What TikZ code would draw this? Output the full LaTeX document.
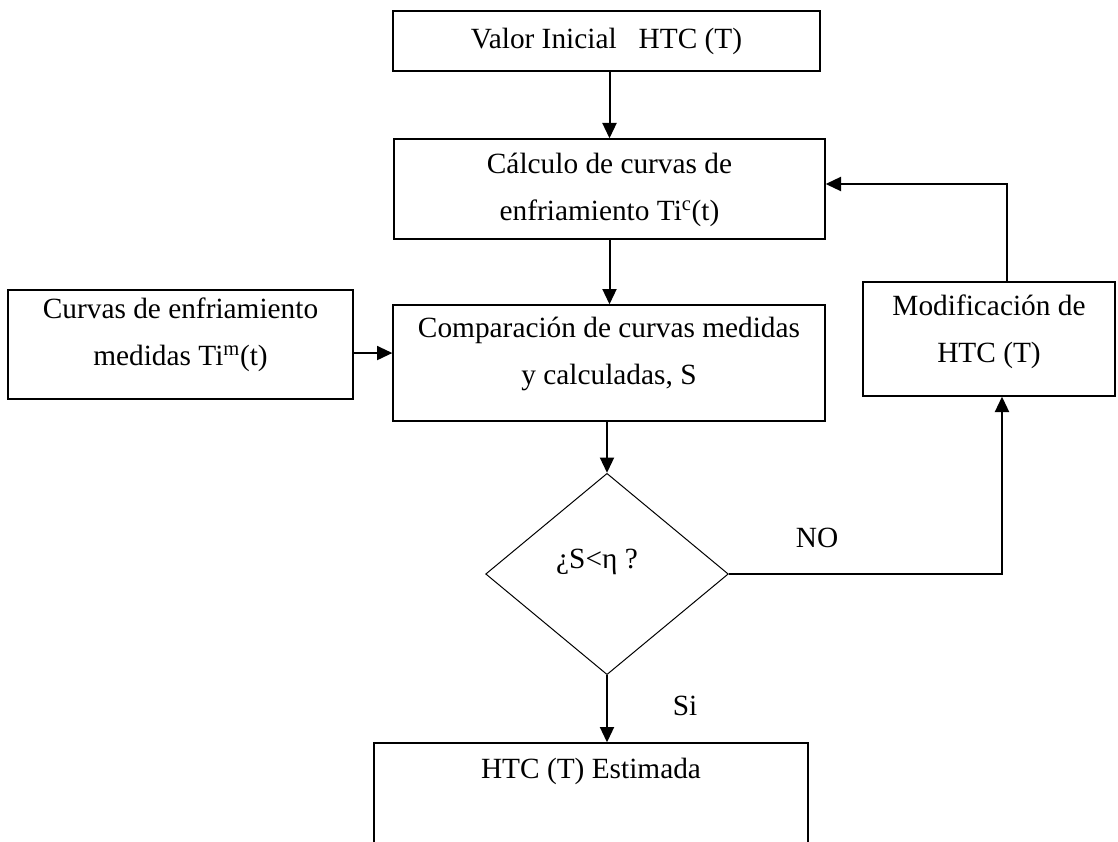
\documentclass[tikz,border=0pt]{standalone}
\usepackage{fontspec}
\setmainfont{Liberation Serif}
\usetikzlibrary{arrows.meta,shapes.geometric,fit}
\begin{document}
\begin{tikzpicture}[x=0.75pt,y=-0.75pt,
  box/.style={draw, line width=1pt, inner sep=0pt},
  txt/.style={align=center, font=\fontsize{22pt}{35.25pt}\selectfont, inner sep=0pt},
  arr/.style={line width=1.5pt, -{Triangle[length=11.5pt,width=10.5pt]}},
  decision/.style={draw, diamond, line width=0.75pt, inner sep=0pt,
                   minimum width=182pt, minimum height=151pt}]
\useasboundingbox (0,0) rectangle (1118,842);
\clip (0,0) rectangle (1118,842);

% process boxes
\node[box, fit={(393,11)(820,71)}] (init) {};
\node[txt] (initT) at (606.5,41) {Valor Inicial\hspace{0.75em}HTC (T)};
\node[box, fit={(394,139)(825,239)}] (calc) {};
\node[txt] (calcT) at (609.5,190) {Cálculo de curvas de\\enfriamiento Ti\textsuperscript{c}(t)};
\node[box, fit={(393,305)(825,421)}] (comp) {};
\node[txt] (compT) at (609,353.5) {Comparación de curvas medidas\\y calculadas, S};
\node[box, fit={(8,290)(353,399)}] (meas) {};
\node[txt] (measT) at (180.5,334.5) {Curvas de enfriamiento\\medidas Ti\textsuperscript{m}(t)};
\node[box, fit={(863,282)(1115,396)}] (mod) {};
\node[txt] (modT) at (989,332) {Modificación de\\HTC (T)};

% decision
\node[decision] (dec) at (607,574) {};
\node[txt] (decT) at (597,562) {¿S<η ?};

% result box (runs past the lower edge)
\node[box, fit={(374,743)(808,880)}] (est) {};
\node[txt] (estT) at (591,771) {HTC (T) Estimada};

% branch labels
\node[txt] (no) at (817,538) {NO};
\node[txt] (si) at (685,706) {Si};

% connectors
\draw[arr] (calc.north |- init.south) -- (calc.north);
\draw[arr] (calc.south) -- (calc.south |- comp.north);
\draw[arr] (dec.north |- comp.south) -- (dec.north);
\draw[arr] ([yshift=-6.4pt]meas.east) -- ([yshift=-6.4pt]meas.east -| comp.west);
\draw[arr] (dec.east) -| ([xshift=9.75pt]mod.south);
\draw[arr] ([xshift=13.5pt]mod.north) |- ([yshift=3.75pt]calc.east);
\draw[arr] (dec.south) -- (dec.south |- est.north);
\end{tikzpicture}
\end{document}
